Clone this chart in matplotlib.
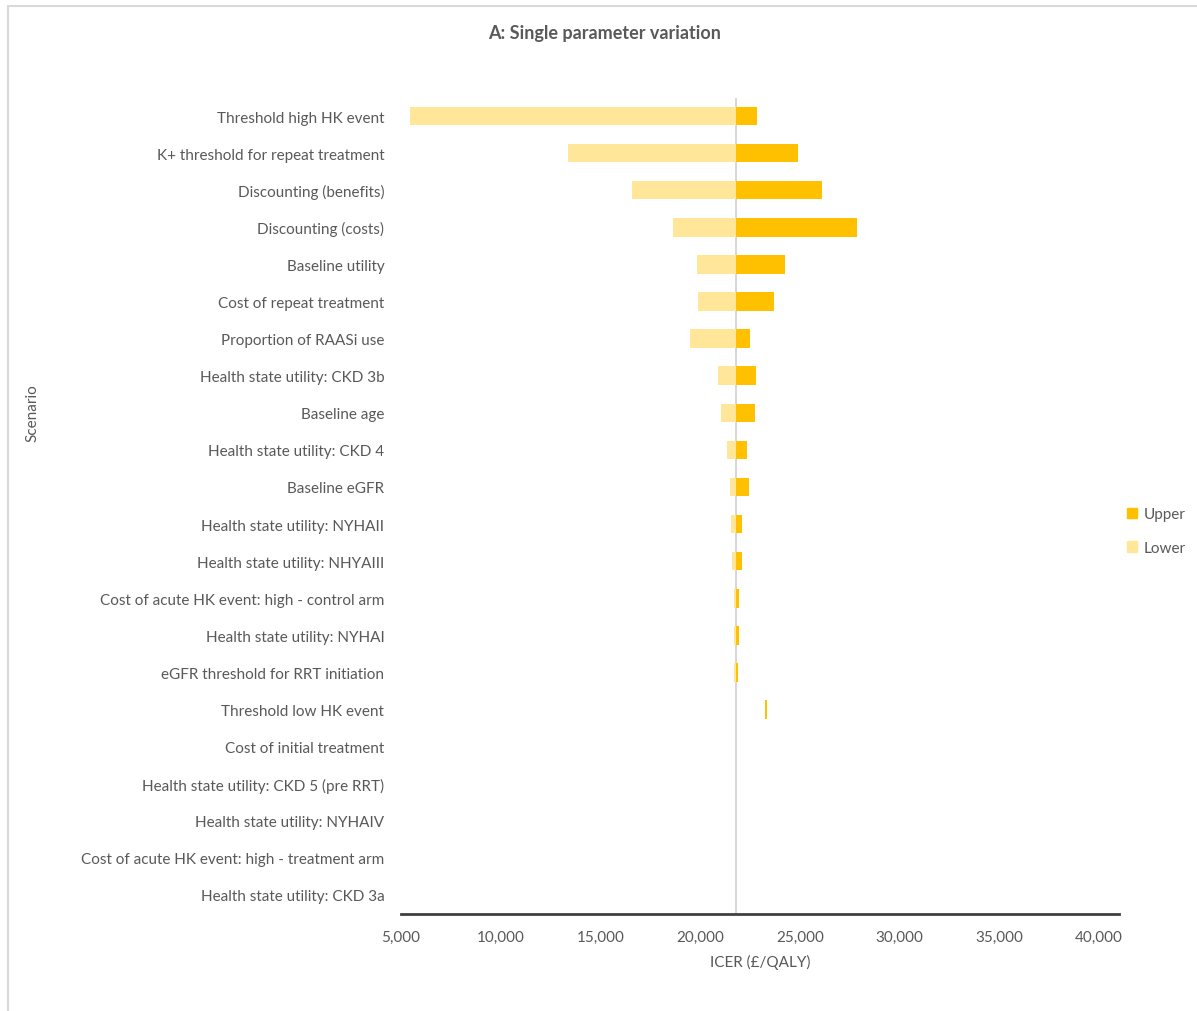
import matplotlib
matplotlib.use("Agg")
import matplotlib.pyplot as plt
from matplotlib.patches import Rectangle, Patch

# ---- data ----
categories = [
    "Threshold high HK event",
    "K+ threshold for repeat treatment",
    "Discounting (benefits)",
    "Discounting (costs)",
    "Baseline utility",
    "Cost of repeat treatment",
    "Proportion of RAASi use",
    "Health state utility: CKD 3b",
    "Baseline age",
    "Health state utility: CKD 4",
    "Baseline eGFR",
    "Health state utility: NYHAII",
    "Health state utility: NHYAIII",
    "Cost of acute HK event: high - control arm",
    "Health state utility: NYHAI",
    "eGFR threshold for RRT initiation",
    "Threshold low HK event",
    "Cost of initial treatment",
    "Health state utility: CKD 5 (pre RRT)",
    "Health state utility: NYHAIV",
    "Cost of acute HK event: high - treatment arm",
    "Health state utility: CKD 3a",
]
base_icer = 21800
lower = [5450, 13380, 16590, 18660, 19850, 19880, 19510, 20900, 21020, 21350,
         21500, 21550, 21600, 21720, 21720, 21700, 21800, 21800, 21800, 21800,
         21800, 21800]
upper = [22840, 24910, 26110, 27860, 24250, 23720, 22500, 22820, 22750, 22370,
         22430, 22120, 22090, 21960, 21960, 21880, 23340, 21800, 21800, 21800,
         21800, 21800]
upper_start = [base_icer] * 16 + [23240] + [base_icer] * 5

x_ticks = [5000, 10000, 15000, 20000, 25000, 30000, 35000, 40000]
x_tick_labels = ["5,000", "10,000", "15,000", "20,000", "25,000", "30,000", "35,000", "40,000"]

# ---- style ----
FONT = ["Lato", "DejaVu Sans"]
TXT = "#595959"
C_UP = "#FFC000"
C_LO = "#FFE699"
FS = 11

W, H = 1197, 1012
fig = plt.figure(figsize=(W / 100, H / 100), dpi=100)
fig.patch.set_facecolor("white")

# chart frame
fig.patches.append(Rectangle((8 / W, -0.05), 1.2, (H - 7) / H + 0.05,
                             transform=fig.transFigure, fill=False,
                             edgecolor="#d9d9d9", linewidth=1.5))

ax = fig.add_axes([401 / W, (H - 914.5) / H, (1119 - 401) / W, (914.5 - 98.5) / H])

n = len(categories)
ypos = list(range(n))
bh = 0.5
lw = [b - l for l, b in zip(lower, [base_icer] * n)]
ax.barh(ypos, lw, left=lower, height=bh, color=C_LO, linewidth=0, label="Lower", zorder=2)
uw = [u - s for u, s in zip(upper, upper_start)]
ax.barh(ypos, uw, left=upper_start, height=bh, color=C_UP, linewidth=0, label="Upper", zorder=2)

ax.axvline(base_icer, color="#d0d0d0", linewidth=1.2, zorder=1)

ax.set_xlim(5000, 41000)
ax.set_ylim(n - 0.5, -0.5)
ax.set_xticks(x_ticks)
ax.set_xticklabels(x_tick_labels)
ax.set_yticks(ypos)
ax.set_yticklabels(categories)

for s in ["top", "right", "left"]:
    ax.spines[s].set_visible(False)
ax.spines["bottom"].set_color("#404040")
ax.spines["bottom"].set_linewidth(2)

ax.tick_params(axis="y", length=0, pad=12, labelsize=FS, labelcolor=TXT)
ax.tick_params(axis="x", length=0, pad=12, labelsize=FS, labelcolor=TXT)
for t in ax.get_xticklabels() + ax.get_yticklabels():
    t.set_family(FONT)

ax.set_xlabel("ICER (£/QALY)", family=FONT, fontsize=FS, color=TXT, labelpad=7)
fig.text(32 / W, 1 - 413 / H, "Scenario", rotation=90, ha="center", va="center",
         family=FONT, fontsize=FS, color=TXT)
fig.text(605 / W, 1 - 33 / H, "A: Single parameter variation", ha="center", va="center",
         family=FONT, fontsize=13, fontweight="bold", color=TXT)

handles = [Patch(color=C_UP, label="Upper"), Patch(color=C_LO, label="Lower")]
leg = fig.legend(handles=handles, loc="center left", bbox_to_anchor=(1113 / W, 1 - 532 / H),
                 frameon=False, prop={"family": FONT, "size": FS},
                 handlelength=0.7, handleheight=0.7, handletextpad=0.4, labelspacing=1.25)
for t in leg.get_texts():
    t.set_color(TXT)

fig.savefig("out.png", dpi=100, facecolor="white")
